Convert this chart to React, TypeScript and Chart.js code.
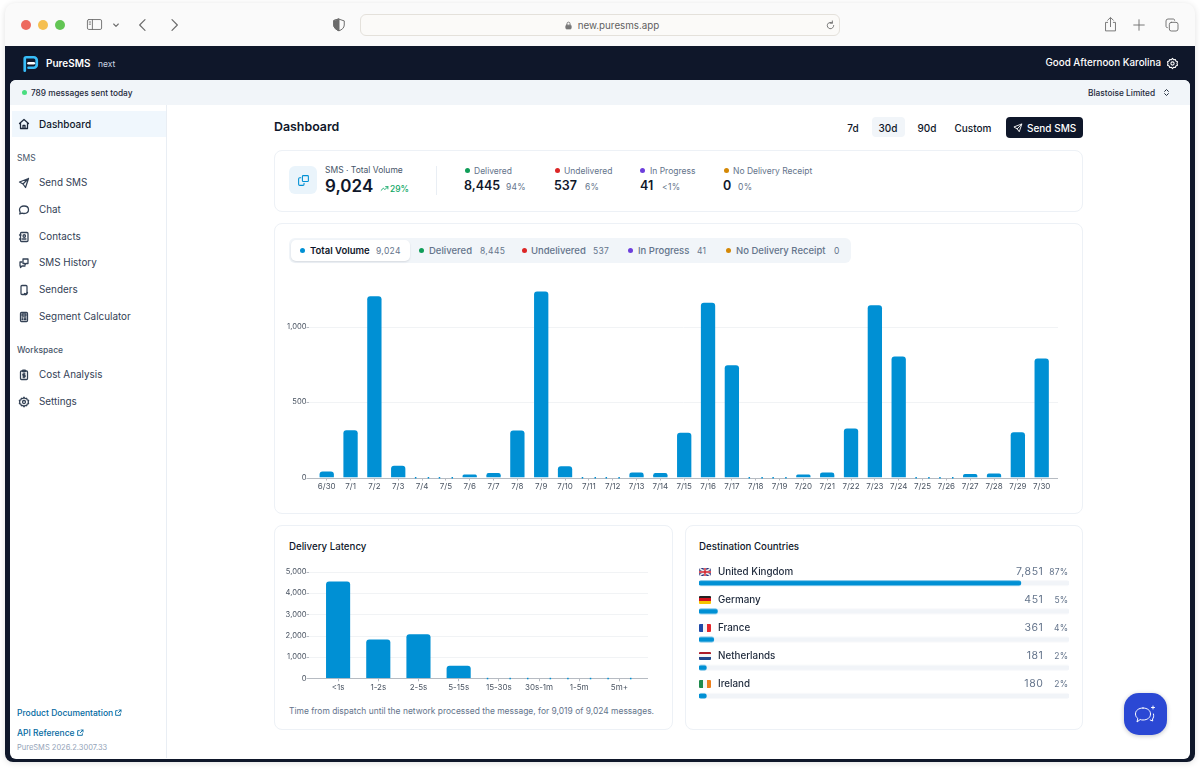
import React, { useEffect, useRef } from "react";
import { Chart, registerables } from "chart.js";

Chart.register(...registerables);

const dailyLabels = ["6/30","7/1","7/2","7/3","7/4","7/5","7/6","7/7","7/8","7/9","7/10","7/11","7/12","7/13","7/14","7/15","7/16","7/17","7/18","7/19","7/20","7/21","7/22","7/23","7/24","7/25","7/26","7/27","7/28","7/29","7/30"];
const dailyVolume = [40,313,1200,77,0,0,20,29,311,1232,75,0,0,33,29,296,1157,744,0,0,20,33,325,1141,801,0,0,24,26,300,788];
const dailyTicks = [0,500,1000];
const latencyLabels = ["<1s","1-2s","2-5s","5-15s","15-30s","30s-1m","1-5m","5m+"];
const latencyValues = [4540,1815,2065,590,0,0,0,0];
const latencyTicks = [0,1000,2000,3000,4000,5000];
const countryNames = ["United Kingdom","Germany","France","Netherlands","Ireland"];
const countryVolumes = [7851,451,361,181,180];
const countryShares = ["87%","5%","4%","2%","2%"];
const totalVolume = 9024;
const navMain = [["Send SMS",182.5],["Chat",209.5],["Contacts",236.5],["SMS History",263],["Senders",289.5],["Segment Calculator",316.5]];
const navWorkspace = [["Cost Analysis",374.5],["Settings",401.5]];
const statNames = ["Delivered","Undelivered","In Progress","No Delivery Receipt"];
const statValues = ["8,445","537","41","0"];
const statShares = ["94%","6%","<1%","0%"];
const statColors = ["#0f9d58","#dc2626","#6d3fdc","#d48806"];
const tabNames = ["Total Volume","Delivered","Undelivered","In Progress","No Delivery Receipt"];
const tabValues = ["9,024","8,445","537","41","0"];
const tabColors = ["#0090d4","#0f9d58","#dc2626","#6d3fdc","#d48806"];
const rangeOptions = ["7d","30d","90d","Custom"];

const BLUE = "#0090d4";
const FONT = "Inter, 'Noto Sans', sans-serif";

const railPlugin = {
  id: "rails",
  beforeDatasetsDraw(chart: any, _a: any, opts: any) {
    const { ctx, scales } = chart;
    const y = scales.y;
    ctx.save();
    ctx.lineWidth = 1;
    y.ticks.forEach((t: any) => {
      const py = Math.round(y.getPixelForValue(t.value)) + 0.5;
      ctx.beginPath();
      ctx.strokeStyle = t.value === 0 ? "#b6bbc2" : "#f1f3f5";
      ctx.moveTo(opts.from, py);
      ctx.lineTo(opts.to, py);
      ctx.stroke();
      ctx.beginPath();
      ctx.strokeStyle = "#b6bbc2";
      ctx.moveTo(opts.from - 2.5, py);
      ctx.lineTo(opts.from, py);
      ctx.stroke();
    });
    ctx.restore();
  },
  afterDatasetsDraw(chart: any) {
    const { ctx } = chart;
    const meta = chart.getDatasetMeta(0);
    const vals = chart.data.datasets[0].data;
    ctx.save();
    ctx.fillStyle = BLUE;
    meta.data.forEach((b: any, i: number) => {
      if (vals[i] === 0) {
        ctx.fillRect(b.x - b.width / 2, b.y - 0.5, 1.5, 1.5);
        ctx.fillRect(b.x + b.width / 2 - 1.5, b.y - 0.5, 1.5, 1.5);
      }
    });
    ctx.restore();
  },
};

function columnConfig(labels: string[], values: number[], tickValues: number[], o: any): any {
  return {
    type: "bar",
    data: { labels, datasets: [{ data: values, backgroundColor: BLUE, borderRadius: { topLeft: o.radius, topRight: o.radius }, borderSkipped: "bottom", barPercentage: 0.6, categoryPercentage: 1 }] },
    plugins: [railPlugin],
    options: {
      responsive: false,
      animation: false,
      layout: { padding: { top: o.top, right: o.right, left: 0, bottom: 0 } },
      plugins: { legend: { display: false }, tooltip: { enabled: false }, rails: { from: o.from, to: o.to } },
      scales: {
        x: {
          type: "category",
          offset: true,
          afterFit: (s: any) => { s.height = o.xHeight; s.paddingLeft = 0; s.paddingRight = 0; },
          border: { display: false },
          grid: { drawOnChartArea: false, drawTicks: true, tickLength: 3, color: "#b6bbc2", offset: false },
          ticks: { autoSkip: false, maxRotation: 0, padding: 1, color: "#4b5563", font: { family: FONT, size: 8 } },
        },
        y: {
          min: 0,
          max: o.max,
          afterBuildTicks: (s: any) => { s.ticks = tickValues.map((value) => ({ value })); },
          afterFit: (s: any) => { s.width = o.yWidth; s.paddingTop = 0; s.paddingBottom = 0; },
          border: { display: false },
          grid: { display: false, drawTicks: false },
          ticks: { padding: o.yPad, color: "#4b5563", font: { family: FONT, size: 7.6 }, callback: (v: any) => Number(v).toLocaleString("en-US") },
        },
      },
    },
  };
}

function countryConfig(): any {
  return {
    type: "bar",
    data: {
      labels: countryNames,
      datasets: [
        { data: countryVolumes, backgroundColor: BLUE, borderRadius: 3, borderSkipped: false, barThickness: 4.4, grouped: false, order: 1 },
        { data: countryNames.map(() => totalVolume), backgroundColor: "#f1f4f8", borderRadius: 3, borderSkipped: false, barThickness: 4.4, grouped: false, order: 2 },
      ],
    },
    options: {
      indexAxis: "y",
      responsive: false,
      animation: false,
      layout: { padding: 0 },
      plugins: { legend: { display: false }, tooltip: { enabled: false } },
      scales: { x: { display: false, min: 0, max: totalVolume }, y: { display: false } },
    },
  };
}

function ChartCanvas({ config, left, top, width, height }: any) {
  const ref = useRef<HTMLCanvasElement>(null);
  useEffect(() => {
    const c = new Chart(ref.current as HTMLCanvasElement, config());
    return () => c.destroy();
  }, []);
  return <canvas ref={ref} width={width} height={height} style={{ position: "absolute", left, top, width, height }} />;
}

function T({ x, y, s = 10, w = 400, c = "#0f172a", r, cx, children, ls }: any) {
  const st: any = { position: "absolute", top: y, transform: cx !== undefined ? "translate(-50%,-50%)" : "translateY(-50%)", fontSize: s, fontWeight: w, color: c, whiteSpace: "nowrap", lineHeight: 1, letterSpacing: ls };
  if (cx !== undefined) st.left = cx;
  else if (r !== undefined) st.right = 1200 - r;
  else st.left = x;
  return <div style={st}>{children}</div>;
}

function Box({ x, y, w, h, bg, b, rad, sh, ch }: any) {
  return <div style={{ position: "absolute", left: x, top: y, width: w, height: h, background: bg, border: b, borderRadius: rad, boxShadow: sh, boxSizing: "border-box" }}>{ch}</div>;
}

function Dot({ x, y, r = 2.5, c }: any) {
  return <div style={{ position: "absolute", left: x - r, top: y - r, width: r * 2, height: r * 2, borderRadius: "50%", background: c }} />;
}

function Ico({ x, y, size = 12, c = "#334155", sw = 1.4, vb = 24, children }: any) {
  return (
    <svg viewBox={`0 0 ${vb} ${vb}`} width={size} height={size} style={{ position: "absolute", left: x - size / 2, top: y - size / 2 }} fill="none" stroke={c} strokeWidth={sw * (vb / size) * 0.9} strokeLinecap="round" strokeLinejoin="round">
      {children}
    </svg>
  );
}

const Send = () => <path d="M21 3L10 14M21 3l-6 18-5-7-7-4z" />;
const Gear = () => <><circle cx="12" cy="12" r="3" /><path d="M12 2.5l2 2.6 3.2-.6 1 3.1 3 1.3-.9 3.1.9 3.1-3 1.3-1 3.1-3.2-.6-2 2.6-2-2.6-3.2.6-1-3.1-3-1.3.9-3.1-.9-3.1 3-1.3 1-3.1 3.2.6z" /></>;

function Flag({ i, y }: any) {
  const x = 699, w = 12, h = 8;
  const stripesV: any = { 2: ["#1f4aa8", "#f5f5f5", "#e5262c"], 4: ["#1f8a4c", "#f5f5f5", "#ee7f1c"] };
  const stripesH: any = { 1: ["#222", "#d4111c", "#f5c400"], 3: ["#ae1c28", "#f5f5f5", "#21468b"] };
  const base: any = { position: "absolute", left: x, top: y - h / 2, width: w, height: h, display: "flex", borderRadius: 1, overflow: "hidden" };
  if (i === 0)
    return (
      <svg viewBox="0 0 12 8" style={{ ...base }}>
        <rect width="12" height="8" fill="#28357e" />
        <path d="M0 0L12 8M12 0L0 8" stroke="#eee" strokeWidth="1.6" />
        <path d="M6 0V8M0 4H12" stroke="#eee" strokeWidth="2.6" />
        <path d="M6 0V8M0 4H12" stroke="#d3202c" strokeWidth="1.4" />
      </svg>
    );
  if (stripesV[i]) return <div style={base}>{stripesV[i].map((c: string) => <div key={c} style={{ flex: 1, background: c }} />)}</div>;
  return <div style={{ ...base, flexDirection: "column" }}>{stripesH[i].map((c: string) => <div key={c} style={{ flex: 1, background: c }} />)}</div>;
}

export default function App() {
  const navIcons: any[] = [
    <Send />,
    <path d="M12 4c5 0 9 3 9 7.5S17 19 12 19c-1.5 0-3-.3-4-.8L3.5 20l1-3.7C3.600 15 3 13.300 3 11.500 3 7 7 4 12 4z" />,
    <><rect x="5" y="3" width="15" height="18" rx="2" /><circle cx="12.500" cy="10" r="2.500" /><path d="M9 16h7M3 8h3M3 16h3" /></>,
    <><path d="M10 4h10v9h-4l-2 3v-3h-4z" /><path d="M8 10H4v8h1v3l3-3h6" /></>,
    <><rect x="6" y="3" width="12" height="18" rx="2" /><path d="M13 19l2 2 4-4" /></>,
    <><rect x="5" y="3" width="14" height="18" rx="2" /><rect x="8" y="6" width="8" height="4" /><path d="M8 14h1M12 14h1M15 14h1M8 17h1M12 17h1M15 17h1" /></>,
  ];
  const wsIcons: any[] = [
    <><rect x="5" y="4" width="14" height="17" rx="2" /><rect x="9" y="2.500" width="6" height="3" rx="1" /><path d="M14 10h-3a1.500 1.500 0 000 3h2a1.500 1.500 0 010 3h-3M12 9v8.500" /></>,
    <Gear />,
  ];
  const statDot = [467, 557, 642, 726];
  const statLbl = [474, 564, 650, 733];
  const statVal = [464, 554, 640, 723];
  const statPct = [506, 585, 662, 738];
  const tabDot = [302, 421, 524, 630, 728];
  const tabLbl = [310, 429, 531, 638, 736];
  const tabNum = [376, 480, 593, 697, 834];
  const rangeX = [853, 888, 927, 973];
  return (
    <div style={{ position: "absolute", left: 0, top: 0, width: 1200, height: 769, background: "#fff", overflow: "hidden", fontFamily: FONT }}>
      <Box x={5} y={3} w={1190} h={759} bg="#fafafa" rad="10px 10px 8px 8px" sh="0 1px 6px rgba(0,0,0,.12)" />
      <Box x={5} y={46} w={1190} h={716} bg="#0f172a" rad="0 0 8px 8px" />
      <Box x={10} y={80} w={1180} h={679} bg="#fff" rad="6px 6px 6px 6px" />
      <Box x={10} y={80} w={1180} h={25} bg="#f1f5f9" rad="6px 6px 0 0" />

      {/* browser chrome */}
      <Dot x={26} y={25} r={5} c="#ed6a5e" />
      <Dot x={43} y={25} r={5} c="#f5bf4f" />
      <Dot x={60} y={25} r={5} c="#62c554" />
      <Ico x={94} y={24} size={17} c="#6b6b6b" sw={1}><rect x="2" y="5" width="20" height="14" rx="2" /><path d="M9 5v14M4.500 8.500h2M4.500 11.500h2" /></Ico>
      <Ico x={116} y={25} size={8} c="#6b6b6b" sw={1.2}><path d="M5 9l7 7 7-7" /></Ico>
      <Ico x={143} y={25} size={16} c="#6b6b6b" sw={1.3}><path d="M15 4l-8 8 8 8" /></Ico>
      <Ico x={174} y={25} size={16} c="#6b6b6b" sw={1.3}><path d="M9 4l8 8-8 8" /></Ico>
      <Ico x={339} y={25} size={14} c="#6b6b6b" sw={1.1}><path d="M12 2l9 3v7c0 5-4 8-9 10-5-2-9-5-9-10V5z" /><path d="M12 2v20H12c-5-2-9-5-9-10V5z" fill="#6b6b6b" /></Ico>
      <Box x={360} y={14} w={480} h={22} bg="#fbfaf8" b="1px solid #e4e1db" rad={6} />
      <Ico x={568} y={25.500} size={9} c="#777" sw={1}><rect x="5" y="11" width="14" height="10" rx="2" fill="#777" /><path d="M8 11V7a4 4 0 018 0v4" /></Ico>
      <T cx={618.500} y={25.500} s={9.800} c="#5f5f5f">new.puresms.app</T>
      <Ico x={830} y={25} size={11} c="#6b6b6b" sw={1}><path d="M19 12a7 7 0 11-3-5.700M16 2v5h-5" /></Ico>
      <Ico x={1110} y={24} size={17} c="#6b6b6b" sw={1}><path d="M8 9H5v12h14V9h-3M12 15V3M8 6l4-4 4 4" /></Ico>
      <Ico x={1139} y={25} size={14} c="#6b6b6b" sw={1}><path d="M12 3v18M3 12h18" /></Ico>
      <Ico x={1172} y={25} size={16} c="#6b6b6b" sw={1}><rect x="8" y="8" width="13" height="13" rx="3" /><path d="M5 16a2 2 0 01-2-2V6a3 3 0 013-3h8a2 2 0 012 2" /></Ico>

      {/* app header */}
      <Ico x={29.500} y={63.500} size={18} c="#38bdf8" sw={3}><path d="M5 21V5a2 2 0 012-2h10a4 4 0 014 4v6a4 4 0 01-4 4h-7" /><path d="M10 11h7" stroke="#fff" /></Ico>
      <T x={46} y={63} s={10} w={600} c="#fff">PureSMS</T>
      <T x={98} y={64} s={8.500} c="#cbd5e1">next</T>
      <T r={1161} y={63} s={9.800} w={500} c="#fff">Good Afternoon Karolina</T>
      <Ico x={1172} y={63.500} size={13} c="#fff" sw={1.2}><Gear /></Ico>

      {/* status bar */}
      <Dot x={24} y={92} r={2.500} c="#4ade80" />
      <T x={31} y={92.500} s={8.300} w={500} c="#1e293b">789 messages sent today</T>
      <T x={1088} y={92.500} s={8.300} w={500} c="#1e293b">Blastoise Limited</T>
      <Ico x={1166} y={92.500} size={9} c="#1e293b" sw={1.1}><path d="M7 9l5-5 5 5M7 15l5 5 5-5" /></Ico>

      {/* sidebar */}
      <Box x={166} y={105} w={1} h={653} bg="#e9eef4" />
      <Box x={12} y={111} w={154} h={26} bg="#f0f7fd" />
      <Ico x={24} y={124} size={12} c="#1e293b"><path d="M3 11l9-8 9 8M5 9.500V21h14V9.500M10 21v-6h4v6" /></Ico>
      <T x={39} y={124} s={10} w={500} c="#0f172a">Dashboard</T>
      <T x={17} y={157.500} s={8.500} c="#475569">SMS</T>
      {navMain.map((n: any, i) => (
        <React.Fragment key={n[0]}>
          <Ico x={24} y={n[1]} size={12}>{navIcons[i]}</Ico>
          <T x={39} y={n[1]} s={9.900} c="#334155">{n[0]}</T>
        </React.Fragment>
      ))}
      <T x={17} y={349.500} s={8.500} w={500} c="#475569">Workspace</T>
      {navWorkspace.map((n: any, i) => (
        <React.Fragment key={n[0]}>
          <Ico x={24} y={n[1]} size={12}>{wsIcons[i]}</Ico>
          <T x={39} y={n[1]} s={9.900} c="#334155">{n[0]}</T>
        </React.Fragment>
      ))}
      <T x={17} y={713} s={8.500} w={500} c="#0369a1">Product Documentation</T>
      <Ico x={118} y={713} size={8} c="#0369a1" sw={1}><path d="M10 5H5v14h14v-5M13 11l8-8M15 3h6v6" /></Ico>
      <T x={17} y={733} s={8.500} w={500} c="#0369a1">API Reference</T>
      <Ico x={80} y={733} size={8} c="#0369a1" sw={1}><path d="M10 5H5v14h14v-5M13 11l8-8M15 3h6v6" /></Ico>
      <T x={17} y={748} s={7.500} c="#94a3b8">PureSMS 2026.2.3007.33</T>

      {/* page header */}
      <T x={274} y={127} s={12.400} w={600} c="#0f172a">Dashboard</T>
      <Box x={872} y={117} w={33} h={20} bg="#f1f5f9" rad={4} />
      {rangeOptions.map((r, i) => <T key={r} cx={rangeX[i]} y={127.500} s={10} w={500} c="#0f172a">{r}</T>)}
      <Box x={1006} y={117} w={77} h={20.500} bg="#0f172a" rad={4} />
      <Ico x={1018} y={127.500} size={10} c="#fff" sw={1}><Send /></Ico>
      <T x={1027} y={127.500} s={10} w={500} c="#fff">Send SMS</T>

      {/* stat card */}
      <Box x={274} y={150} w={809} h={62} b="1px solid #edf1f6" rad={8} />
      <Box x={289} y={166} w={28} h={28} bg="#eaf4fb" rad={6} />
      <Ico x={303} y={180} size={13} c="#0090d4" sw={1.2}><rect x="10" y="3" width="11" height="11" rx="1.500" /><path d="M7 7H5a2 2 0 00-2 2v10a2 2 0 002 2h6a2 2 0 002-2v-2" /></Ico>
      <T x={325} y={170} s={8.500} c="#475569">SMS · Total Volume</T>
      <T x={325} y={186} s={17} w={600} c="#0f172a">9,024</T>
      <Ico x={384} y={188.500} size={9} c="#10a866" sw={1}><path d="M3 17l6-6 4 4 8-8M15 7h6v6" /></Ico>
      <T x={390} y={188.500} s={8.500} w={500} c="#10a866">29%</T>
      <Box x={436} y={166} w={1} h={29} bg="#e9eef4" />
      {statNames.map((n, i) => (
        <React.Fragment key={n}>
          <Dot x={statDot[i]} y={170.500} r={2.500} c={statColors[i]} />
          <T x={statLbl[i]} y={171} s={8.500} c="#64748b">{n}</T>
          <T x={statVal[i]} y={186} s={12.500} w={600} c="#0f172a">{statValues[i]}</T>
          <T x={statPct[i]} y={187} s={8.500} c="#64748b" ls={0.3}>{statShares[i]}</T>
        </React.Fragment>
      ))}

      {/* chart card */}
      <Box x={274} y={223} w={809} h={291} b="1px solid #edf1f6" rad={8} />
      <Box x={289} y={238} w={562} h={25} bg="#f1f5f9" rad={6} />
      <Box x={291} y={240} w={119} h={21} bg="#fff" rad={5} sh="0 1px 2px rgba(15,23,42,.12)" />
      {tabNames.map((n, i) => (
        <React.Fragment key={n}>
          <Dot x={tabDot[i]} y={250.500} r={2.500} c={tabColors[i]} />
          <T x={tabLbl[i]} y={250.500} s={9.500} w={i === 0 ? 600 : 500} c={i === 0 ? "#0f172a" : "#64748b"}>{n}</T>
          <T x={tabNum[i]} y={251} s={8.500} c="#64748b" ls={0.3}>{tabValues[i]}</T>
        </React.Fragment>
      ))}
      <ChartCanvas
        left={275} top={275} width={790} height={225}
        config={() => columnConfig(dailyLabels, dailyVolume, dailyTicks, { radius: 3, top: 6.2, right: 11.4, xHeight: 22.5, yWidth: 39.8, yPad: 8.3, max: 1300, from: 34, to: 783 })}
      />

      {/* latency card */}
      <Box x={274} y={525} w={399} h={205} b="1px solid #edf1f6" rad={8} />
      <T x={289} y={546.500} s={9.700} w={500} c="#0f172a">Delivery Latency</T>
      <ChartCanvas
        left={275} top={560} width={390} height={135}
        config={() => columnConfig(latencyLabels, latencyValues, latencyTicks, { radius: 3, top: 11.7, right: 25.5, xHeight: 16.7, yWidth: 43, yPad: 11.5, max: 5000, from: 34, to: 373 })}
      />
      <T x={289} y={710.500} s={8.450} c="#64748b">Time from dispatch until the network processed the message, for 9,019 of 9,024 messages.</T>

      {/* countries card */}
      <Box x={685} y={525} w={398} h={205} b="1px solid #edf1f6" rad={8} />
      <T x={699} y={546.500} s={9.700} w={500} c="#0f172a">Destination Countries</T>
      <ChartCanvas left={699} top={569} width={370} height={140.500} config={countryConfig} />
      {countryNames.map((n, i) => {
        const y = 571.500 + i * 28.100;
        return (
          <React.Fragment key={n}>
            <Flag i={i} y={y} />
            <T x={718} y={y} s={9.800} w={500} c="#1e293b">{n}</T>
            <T r={1043.500} y={y} s={10.500} c="#64748b" ls={0.6}>{countryVolumes[i].toLocaleString("en-US")}</T>
            <T r={1068.500} y={y + 0.500} s={8.500} c="#64748b" ls={0.3}>{countryShares[i]}</T>
          </React.Fragment>
        );
      })}

      {/* chat button */}
      <Box x={1124} y={693} w={43} h={42} bg="#2b48d4" rad={15} sh="0 1px 4px rgba(15,23,42,.25)" />
      <Ico x={1145} y={714} size={24} c="#fff" sw={1.1}><path d="M10 6c4.500 0 7.500 2.500 7.500 6s-3 6-7.500 6c-1 0-2-.1-2.800-.5L4 20l.8-3.500C3.300 15.300 2.500 13.800 2.500 12c0-3.500 3-6 7.500-6z" /><path d="M20 4v3M18.500 5.500h3M20.500 12c.5 2 0 4-1 5l.2 2-2.500-1" /></Ico>
    </div>
  );
}
